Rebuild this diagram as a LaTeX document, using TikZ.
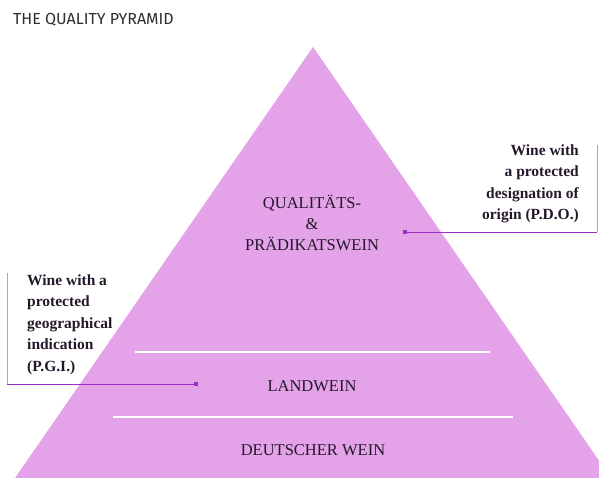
\documentclass[tikz,border=0pt]{standalone}
\usepackage{fontspec}
\setmainfont{Liberation Serif}
\newfontfamily\titlefont{Fira Sans}
\definecolor{pyr}{HTML}{E4A2E8}
\definecolor{lnk}{HTML}{9B30C8}
\definecolor{lnklight}{HTML}{C890DA}
\definecolor{txt}{HTML}{24182A}
\definecolor{ttl}{HTML}{2E2E2E}
\begin{document}
\begin{tikzpicture}[x=1pt,y=-1pt,
  tier/.style={font=\fontsize{16.5}{21}\selectfont, text=txt, align=center, inner sep=0pt},
  note/.style={font=\fontsize{15.5}{21.5}\selectfont\bfseries, text=txt, inner sep=0pt},
  divider/.style={white, line width=1.2pt},
  marker/.style={fill=lnk, draw=none, minimum size=4.5pt, inner sep=0pt},
  leader/.style={lnk, line width=0.8pt},
  riser/.style={lnklight, line width=1pt}]
\useasboundingbox (0,0) rectangle (599,478);
% pyramid
\fill[pyr] (313,47) -- (15,478) -- (599,478) -- (599,460.6) -- cycle;
\draw[divider] (135,352) -- (490,352);
\draw[divider] (113,417) -- (513,417);
% title
\node[anchor=west, font=\titlefont\fontsize{16}{18}\selectfont, text=ttl, inner sep=0pt] (title) at (13,20) {THE QUALITY PYRAMID};
% tiers
\node[tier] (top) at (312,223) {QUALITÄTS-\\\&\\PRÄDIKATSWEIN};
\node[tier] (land) at (312,386) {LANDWEIN};
\node[tier] (deut) at (313,450) {DEUTSCHER WEIN};
% notes
\node[note, align=right, anchor=east] (pdo) at (579,184) {Wine with\\a protected\\designation of\\origin (P.D.O.)};
\node[note, align=left, anchor=west] (pgi) at (27,324.5) {Wine with a\\protected\\geographical\\indication\\(P.G.I.)};
% connectors
\node[marker] (mR) at (405,232) {};
\coordinate (cR) at (597,232);
\coordinate (tR) at (597,145);
\draw[leader] (mR.center) -- (cR);
\draw[riser] (cR) -- (tR);
\node[marker] (mL) at (196,384) {};
\coordinate (cL) at (7,384);
\coordinate (tL) at (7,273);
\draw[leader] (mL.center) -- (cL);
\draw[riser] (cL) -- (tL);
\end{tikzpicture}
\end{document}
